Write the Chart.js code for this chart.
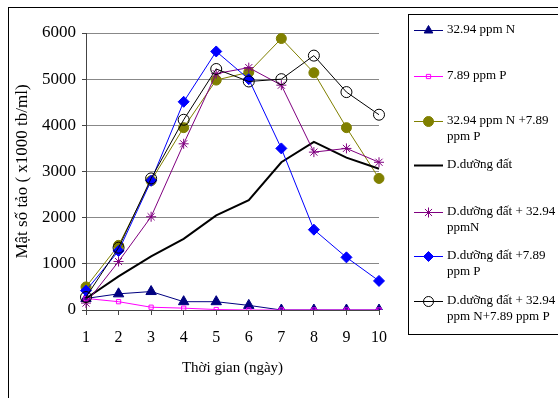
<!DOCTYPE html>
<html>
<head>
<meta charset="utf-8">
<script src="https://cdn.jsdelivr.net/npm/chart.js@4/dist/chart.umd.min.js"></script>
<style>
  html, body { margin: 0; padding: 0; background: #fff; }
  #wrap { width: 558px; height: 398px; position: relative; }
</style>
</head>
<body>
<div id="wrap"><canvas id="chart" width="558" height="398"></canvas></div>
<script>
// --- Data ---
const days = ['1', '2', '3', '4', '5', '6', '7', '8', '9', '10'];

const nOnly = [250, 350, 400, 180, 180, 100, 0, 0, 0, 0];
const pOnly = [250, 180, 60, 40, 10, 0, 0, 0, 0, 0];
const nPlusP = [500, 1400, 2800, 3950, 4980, 5150, 5880, 5140, 3950, 2850];
const soil = [250, 730, 1160, 1540, 2050, 2380, 3200, 3640, 3300, 3060];
const soilN = [150, 1050, 2020, 3600, 5120, 5250, 4870, 3420, 3500, 3200];
const soilP = [420, 1280, 2800, 4510, 5600, 5000, 3500, 1740, 1140, 630];
const soilNP = [280, 1350, 2850, 4120, 5220, 4950, 5000, 5510, 4720, 4230];

const seriesNames = [
  ['32.94 ppm N'],
  ['7.89 ppm P'],
  ['32.94 ppm N +7.89', 'ppm P'],
  ['D.dưỡng đất'],
  ['D.dưỡng đất + 32.94', 'ppmN'],
  ['D.dưỡng đất +7.89', 'ppm P'],
  ['D.dưỡng đất + 32.94', 'ppm N+7.89 ppm P']
];

const yTicks = [0, 1000, 2000, 3000, 4000, 5000, 6000];

const FONT = '"Liberation Serif", "Times New Roman", serif';

function mkSet(idx, data, color, style, radius, fill, width) {
  return {
    label: seriesNames[idx].join(' '),
    data: data,
    borderColor: color,
    backgroundColor: fill,
    borderWidth: width,
    pointStyle: style,
    pointRadius: radius,
    pointBorderColor: color,
    pointBackgroundColor: fill,
    pointBorderWidth: 1,
    tension: 0,
    order: 10 - idx // later series on top, like the original
  };
}

const datasets = [
  mkSet(0, nOnly, '#000080', 'triangle', 6, '#000080', 1),
  mkSet(1, pOnly, '#ff00ff', 'rect', 3, 'rgba(0,0,0,0)', 1),
  mkSet(2, nPlusP, '#808000', 'circle', 5, '#808000', 1),
  mkSet(3, soil, '#000000', false, 0, '#000000', 2),
  mkSet(4, soilN, '#800080', 'star', 5, '#800080', 1),
  mkSet(5, soilP, '#0000ff', 'rectRot', 5.5, '#0000ff', 1),
  mkSet(6, soilNP, '#000000', 'circle', 5.5, 'rgba(0,0,0,0)', 1)
];

// frame + white background
const framePlugin = {
  id: 'frame',
  beforeDraw(chart) {
    const ctx = chart.ctx;
    ctx.save();
    ctx.fillStyle = '#fff';
    ctx.fillRect(0, 0, chart.width, chart.height);
    ctx.strokeStyle = '#000';
    ctx.lineWidth = 1;
    ctx.strokeRect(8.5, 7.5, 700, 500);
    ctx.restore();
  }
};

// legend box on the right, drawn by hand
const legendPlugin = {
  id: 'sideLegend',
  afterDraw(chart) {
    const ctx = chart.ctx;
    const rows = [30, 76, 121, 165, 212, 256, 301];
    ctx.save();
    ctx.strokeStyle = '#000';
    ctx.lineWidth = 1;
    ctx.strokeRect(408.5, 14.5, 300, 320);
    ctx.font = '13px ' + FONT;
    ctx.textBaseline = 'middle';
    ctx.textAlign = 'left';
    chart.data.datasets.forEach((ds, i) => {
      const y = rows[i];
      ctx.strokeStyle = ds.borderColor;
      ctx.lineWidth = ds.borderWidth;
      ctx.beginPath();
      ctx.moveTo(414, y + 0.5);
      ctx.lineTo(443, y + 0.5);
      ctx.stroke();
      if (ds.pointStyle) {
        ctx.fillStyle = ds.pointBackgroundColor;
        ctx.strokeStyle = ds.pointBorderColor;
        ctx.lineWidth = 1;
        Chart.helpers.drawPoint(ctx, {
          pointStyle: ds.pointStyle,
          radius: Math.min(ds.pointRadius, 5),
          borderWidth: 1,
          rotation: 0
        }, 428.5, y + 0.5);
      }
      ctx.fillStyle = '#000';
      seriesNames[i].forEach((line, k) => {
        ctx.fillText(line, 447, y + k * 16);
      });
    });
    ctx.restore();
  }
};

new Chart(document.getElementById('chart'), {
  type: 'line',
  data: { labels: days, datasets: datasets },
  options: {
    responsive: false,
    animation: false,
    layout: { padding: { left: 0, top: 33, right: 179, bottom: 0 } },
    plugins: { legend: { display: false }, tooltip: { enabled: false } },
    scales: {
      x: {
        offset: false,
        grid: { drawOnChartArea: false, drawTicks: true, tickLength: 5, tickColor: '#444' },
        border: { color: '#444', width: 1 },
        ticks: { color: '#000', font: { family: FONT, size: 16 }, padding: 13, maxRotation: 0 },
        title: {
          display: true,
          text: 'Thời gian (ngày)',
          color: '#000',
          font: { family: FONT, size: 15 },
          padding: { top: 6, bottom: 21 }
        },
        afterFit(s) { s.height = 88; s.paddingLeft = 0; s.paddingRight = 0; }
      },
      y: {
        min: 0,
        max: 6000,
        afterBuildTicks(s) { s.ticks = yTicks.map(v => ({ value: v })); },
        grid: { color: '#888', drawTicks: true, tickLength: 4, tickColor: '#444' },
        border: { color: '#444', width: 1 },
        ticks: {
          color: '#000',
          font: { family: FONT, size: 17 },
          padding: 6,
          callback: v => String(v)
        },
        title: {
          display: true,
          text: 'Mật số tảo ( x1000 tb/ml)',
          color: '#000',
          font: { family: FONT, size: 17 },
          padding: { top: 12, bottom: 4 }
        },
        afterFit(s) { s.width = 86; s.paddingTop = 0; s.paddingBottom = 0; }
      }
    }
  },
  plugins: [framePlugin, legendPlugin]
});
</script>
</body>
</html>
